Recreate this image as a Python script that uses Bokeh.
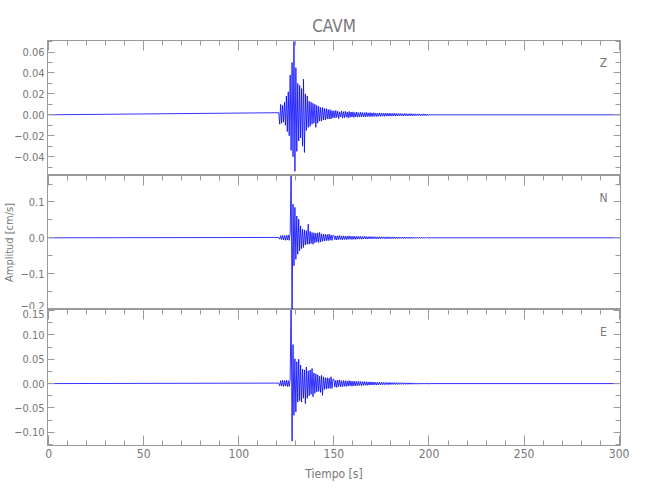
import numpy as np
from bokeh.plotting import figure
from bokeh.layouts import column
from bokeh.models import Range1d, LinearAxis, FixedTicker, CustomJSTickFormatter, Label
from bokeh.embed import file_html
from bokeh.resources import INLINE

# ---------------- data ----------------
station = "CAVM"
channels = ["Z", "N", "E"]

quiet_start = 0.0
quiet_end = 300.5
evt_start = 121.0      # first sample of the strong-motion window [s]
evt_dt = 0.5
coda_start = 150.0
coda_dt = 0.5
coda_end = 200.0

# successive extremes of the trace, 121.0 .. 149.5 s every 0.5 s  [cm/s]
z_evt = [0.002, -0.009, 0.010, -0.008, 0.009, -0.007, 0.012, -0.010, 0.018, -0.016,
         0.022, -0.020, 0.038, -0.034, 0.050, -0.040, 0.070, -0.054, 0.045, -0.035,
         0.030, -0.025, 0.028, -0.022, 0.025, -0.030, 0.034, -0.036, 0.020, -0.015,
         0.018, -0.012, 0.013, -0.011, 0.012, -0.009, 0.011, -0.008, 0.010, -0.012,
         0.009, -0.008, 0.008, -0.006, 0.007, -0.006, 0.007, -0.005, 0.006, -0.005,
         0.006, -0.004, 0.005, -0.004, 0.005, -0.004, 0.004, -0.003]
n_evt = [0.001, -0.004, 0.006, -0.005, 0.007, -0.006, 0.006, -0.007, 0.007, -0.006,
         0.008, -0.007, 0.012, 0.190, -0.220, 0.094, -0.078, 0.085, -0.060, 0.061,
         -0.046, 0.052, -0.036, 0.033, -0.030, 0.024, -0.027, 0.022, -0.020, 0.020,
         -0.018, 0.038, -0.018, 0.018, -0.016, 0.015, -0.018, 0.014, -0.014, 0.013,
         -0.012, 0.014, -0.013, 0.015, -0.012, 0.011, -0.010, 0.010, -0.009, 0.010,
         -0.008, 0.009, -0.008, 0.010, -0.007, 0.008, -0.007, 0.007]
e_evt = [0.001, -0.005, 0.006, -0.005, 0.007, -0.006, 0.006, -0.005, 0.007, -0.006,
         0.006, -0.006, 0.008, 0.170, -0.118, 0.080, -0.065, 0.051, -0.058, 0.045,
         -0.038, 0.050, -0.035, 0.038, -0.038, 0.030, -0.030, 0.028, -0.041, 0.034,
         -0.030, 0.026, -0.025, 0.028, -0.022, 0.031, -0.027, 0.022, -0.020, 0.020,
         -0.017, 0.018, -0.016, 0.015, -0.018, 0.017, -0.024, 0.014, -0.012, 0.012,
         -0.011, 0.012, -0.010, 0.011, -0.010, 0.014, -0.010, 0.009]

# coda extremes, 150.0 .. 199.5 s every 0.5 s  [cm/s]
z_coda = [0.0038, -0.003, 0.0042, -0.0025, 0.0033, -0.0036, 0.0028, -0.002, 0.0036, -0.0031,
          0.003, -0.0028, 0.0034, -0.0022, 0.0026, -0.003, 0.0032, -0.0024, 0.0027, -0.0021,
          0.0028, -0.0025, 0.0022, -0.002, 0.0027, -0.0023, 0.0021, -0.0019, 0.0024, -0.002,
          0.0022, -0.0018, 0.002, -0.0021, 0.0023, -0.0017, 0.0019, -0.0016, 0.0021, -0.0018,
          0.0018, -0.0016, 0.002, -0.0015, 0.0017, -0.0017, 0.0016, -0.0014, 0.0018, -0.0015,
          0.0016, -0.0013, 0.0015, -0.0015, 0.0017, -0.0012, 0.0014, -0.0013, 0.0015, -0.0012,
          0.0014, -0.0012, 0.0013, -0.0011, 0.0015, -0.0012, 0.0012, -0.0011, 0.0013, -0.001,
          0.0012, -0.0011, 0.0011, -0.001, 0.0012, -0.0009, 0.0011, -0.001, 0.001, -0.0009,
          0.0011, -0.0009, 0.001, -0.0009, 0.0009, -0.001, 0.001, -0.0008, 0.0009, -0.0008,
          0.0009, -0.0008, 0.0008, -0.0009, 0.0009, -0.0007, 0.0008, -0.0008, 0.0007, -0.0007]
n_coda = [0.0068, -0.0055, 0.0052, -0.0062, 0.0058, -0.0047, 0.0064, -0.005, 0.0049, -0.0055,
          0.0056, -0.0046, 0.0051, -0.0052, 0.0047, -0.0043, 0.0055, -0.0041, 0.0044, -0.0048,
          0.0046, -0.004, 0.0042, -0.0044, 0.0039, -0.0037, 0.0045, -0.0036, 0.0038, -0.004,
          0.0037, -0.0034, 0.004, -0.0031, 0.0035, -0.0035, 0.0032, -0.003, 0.0036, -0.0029,
          0.0031, -0.0029, 0.0033, -0.0027, 0.0029, -0.003, 0.0028, -0.0026, 0.003, -0.0025,
          0.0028, -0.0024, 0.0026, -0.0026, 0.0027, -0.0023, 0.0025, -0.0024, 0.0026, -0.0022,
          0.0024, -0.0022, 0.0025, -0.002, 0.0023, -0.0022, 0.0021, -0.002, 0.0024, -0.0019,
          0.0022, -0.0019, 0.002, -0.002, 0.0021, -0.0018, 0.0019, -0.0018, 0.002, -0.0017,
          0.0019, -0.0017, 0.0018, -0.0018, 0.0017, -0.0016, 0.0018, -0.0015, 0.0016, -0.0016,
          0.0017, -0.0015, 0.0016, -0.0015, 0.0015, -0.0014, 0.0016, -0.0013, 0.0014, -0.0013]
e_coda = [0.0085, -0.007, 0.0066, -0.0078, 0.0072, -0.006, 0.0075, -0.0064, 0.0058, -0.0068,
          0.0064, -0.0055, 0.006, -0.0061, 0.0055, -0.005, 0.0062, -0.0048, 0.0052, -0.0054,
          0.005, -0.0045, 0.0047, -0.0049, 0.0044, -0.0041, 0.0048, -0.0039, 0.0042, -0.0043,
          0.004, -0.0037, 0.0042, -0.0034, 0.0037, -0.0037, 0.0034, -0.0032, 0.0037, -0.003,
          0.0032, -0.003, 0.0033, -0.0027, 0.0029, -0.003, 0.0027, -0.0026, 0.0029, -0.0024,
          0.0026, -0.0023, 0.0025, -0.0024, 0.0024, -0.0021, 0.0023, -0.0022, 0.0023, -0.002,
          0.0021, -0.0019, 0.0021, -0.0018, 0.002, -0.0019, 0.0018, -0.0017, 0.002, -0.0016,
          0.0018, -0.0016, 0.0017, -0.0016, 0.0017, -0.0015, 0.0015, -0.0015, 0.0016, -0.0014,
          0.0015, -0.0014, 0.0014, -0.0014, 0.0014, -0.0013, 0.0013, -0.0013, 0.0014, -0.0012,
          0.0013, -0.0012, 0.0012, -0.0012, 0.0012, -0.0011, 0.0011, -0.0011, 0.0011, -0.001]

# axis ranges and ticks
x_limits = (-0.6, 300.7)
x_major = [0, 50, 100, 150, 200, 250, 300]
x_minor = list(range(0, 301, 10))
y_limits = [(-0.058, 0.071), (-0.2002, 0.174), (-0.127, 0.152)]
y_major = [[-0.04, -0.02, 0.0, 0.02, 0.04, 0.06],
           [-0.2, -0.1, 0.0, 0.1],
           [-0.10, -0.05, 0.0, 0.05, 0.10, 0.15]]
y_minor = [[-0.05, -0.04, -0.03, -0.02, -0.01, 0.0, 0.01, 0.02, 0.03, 0.04, 0.05, 0.06, 0.07],
           [-0.2, -0.15, -0.1, -0.05, 0.0, 0.05, 0.1, 0.15],
           [-0.125, -0.1, -0.075, -0.05, -0.025, 0.0, 0.025, 0.05, 0.075, 0.1, 0.125, 0.15]]
y_digits = [2, 1, 2]

x_label = "Tiempo [s]"
y_label = "Amplitud [cm/s]"

# ---------------- styling ----------------
FONT = "'Liberation Sans Narrow', 'DejaVu Sans Condensed', 'Liberation Sans', sans-serif"
TXT = "#777777"
AX = "#9a9a9a"
TRACE = "#0000ff"

xr = Range1d(*x_limits)


def build_trace(evt, coda):
    t = np.concatenate([[quiet_start],
                        evt_start + evt_dt * np.arange(len(evt)),
                        coda_start + coda_dt * np.arange(len(coda)),
                        [coda_end, quiet_end]])
    v = np.concatenate([[0.0], evt, coda, [0.0, 0.0]])
    return t, v


def style_axis(ax, tick_in, minor_in, labels):
    ax.axis_line_color = AX
    ax.major_tick_line_color = AX
    ax.minor_tick_line_color = AX
    ax.major_tick_in = tick_in
    ax.major_tick_out = 0
    ax.minor_tick_in = minor_in
    ax.minor_tick_out = 0
    ax.major_label_text_font = FONT
    ax.major_label_text_color = TXT
    if labels:
        ax.major_label_text_font_size = "11px"
    else:
        ax.major_label_text_font_size = "0px"
        ax.major_label_standoff = 0


def make_panel(i, evt, coda, frame_h, top, bottom, last):
    p = figure(frame_width=573, frame_height=frame_h, x_range=xr,
               y_range=Range1d(*y_limits[i]),
               x_axis_location=None, y_axis_location=None,
               output_backend="svg", toolbar_location=None,
               min_border_left=41, min_border_right=20,
               min_border_top=top, min_border_bottom=bottom)
    p.grid.visible = False
    p.outline_line_color = AX
    p.background_fill_color = "white"
    p.border_fill_color = "white"

    yt = FixedTicker(ticks=y_major[i], minor_ticks=y_minor[i])
    fmt = CustomJSTickFormatter(code=(
        "var s = Math.abs(tick).toFixed(%d);"
        "return (tick < -1e-9 ? '\\u2212' : '') + s;" % y_digits[i]))
    left = LinearAxis(ticker=yt, formatter=fmt)
    style_axis(left, 7, 5, True)
    left.major_label_standoff = 3
    if i == 1:
        left.axis_label = y_label
        left.axis_label_text_font = FONT
        left.axis_label_text_font_size = "11px"
        left.axis_label_text_font_style = "normal"
        left.axis_label_text_color = TXT
        left.axis_label_standoff = 1
    p.add_layout(left, "left")

    right = LinearAxis(ticker=FixedTicker(ticks=y_major[i], minor_ticks=y_minor[i]))
    style_axis(right, 7, 5, False)
    p.add_layout(right, "right")

    top_ax = LinearAxis(ticker=FixedTicker(ticks=x_major, minor_ticks=x_minor))
    style_axis(top_ax, 10, 5, False)
    p.add_layout(top_ax, "above")

    if last:
        bot = LinearAxis(ticker=FixedTicker(ticks=x_major, minor_ticks=x_minor))
        style_axis(bot, 10, 5, True)
        bot.major_label_text_font_size = "12px"
        bot.major_label_standoff = 3
        bot.axis_label = x_label
        bot.axis_label_text_font = FONT
        bot.axis_label_text_font_size = "12px"
        bot.axis_label_text_font_style = "normal"
        bot.axis_label_text_color = TXT
        bot.axis_label_standoff = 6
        p.add_layout(bot, "below")

    t, v = build_trace(evt, coda)
    p.line(t, v, line_color=TRACE, line_width=0.8, line_alpha=1.0)

    p.add_layout(Label(x=556, y=frame_h - 22, x_units="screen", y_units="screen",
                       text=channels[i], text_font=FONT, text_font_size="12px",
                       text_color=TXT, text_align="center", text_baseline="middle"))
    return p


p1 = make_panel(0, z_evt, z_coda, 135, 40, 0, False)
p1.title.text = station
p1.title.align = "center"
p1.title.text_font = FONT
p1.title.text_font_size = "17px"
p1.title.text_font_style = "normal"
p1.title.text_color = TXT
p2 = make_panel(1, n_evt, n_coda, 134, 0, 0, False)
p3 = make_panel(2, e_evt, e_coda, 136, 0, 45, True)

layout = column(p1, p2, p3, spacing=0)
open("out.html", "w").write(file_html(layout, INLINE))
